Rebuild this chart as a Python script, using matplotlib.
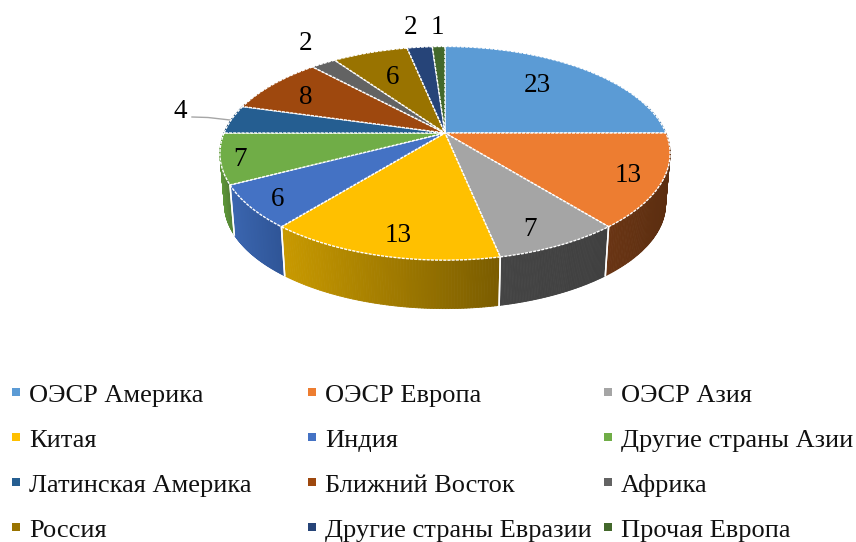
import numpy as np
import matplotlib
matplotlib.use("Agg")
import matplotlib.pyplot as plt
from matplotlib.collections import PolyCollection
from matplotlib.transforms import Transform
from matplotlib.colors import to_rgb

categories = ["ОЭСР Америка", "ОЭСР Европа", "ОЭСР Азия", "Китая", "Индия", "Другие страны Азии",
              "Латинская Америка", "Ближний Восток", "Африка", "Россия", "Другие страны Евразии", "Прочая Европа"]
values = [23, 13, 7, 13, 6, 7, 4, 8, 2, 6, 2, 1]
colors = ["#5b9bd5", "#ed7d31", "#a5a5a5", "#ffc000", "#4472c4", "#70ad47",
          "#255e91", "#9e480e", "#636363", "#997300", "#264478", "#43682b"]
wall_a = ["#3d6d99", "#6a3514", "#444444", "#c99a00", "#3b66b0", "#5f9a3a",
          "#1a4268", "#6f330a", "#444444", "#6b5100", "#1b3055", "#2f4a1e"]
wall_b = ["#3d6d99", "#5c2e10", "#404040", "#7a5c00", "#2f5597", "#548235",
          "#1a4268", "#6f330a", "#444444", "#6b5100", "#1b3055", "#2f4a1e"]
label_xy = [(537, 85), (628, 176), (530, 229), (398, 235), (278, 199), (240, 159),
            (180, 112), (306, 97), (306, 43), (393, 77), (411, 28), (437, 28)]

CX, CY, RX, RY, K = 445, 133, 221, 103, 0.19
DEPTH, SHRINK = 51, 0.98
SERIF = "Liberation Serif"


def project(x, y):
    w = 1 + K * y
    return CX + RX * x / w, CY - RY * y / w


class Persp(Transform):
    input_dims = output_dims = 2
    is_separable = False
    has_inverse = False

    def transform_non_affine(self, xy):
        xy = np.asarray(xy, float)
        px, py = project(xy[:, 0], xy[:, 1])
        return np.column_stack([px, py])


fig = plt.figure(figsize=(8.56, 5.42), dpi=100)
ax = fig.add_axes([0, 0, 1, 1])
wedges, _ = ax.pie(values, colors=colors, startangle=90, counterclock=False,
                   wedgeprops=dict(edgecolor="white", linewidth=1.0, linestyle=(0, (2.2, 0.8))))
persp = Persp()
for w in wedges:
    w.set_transform(persp + ax.transData)
    w.set_zorder(3)


def bottom(px, py):
    return CX + (px - CX) * SHRINK, CY + (py - CY) * SHRINK + DEPTH


for i, w in enumerate(wedges):
    th = np.radians(np.linspace(w.theta1, w.theta2, 80))
    keep = np.sin(th) < 0.3
    if keep.sum() < 2:
        continue
    th = th[keep]
    px, py = project(np.cos(th), np.sin(th))
    bx, by = bottom(px, py)
    quads, cols = [], []
    a, b = np.array(to_rgb(wall_a[i])), np.array(to_rgb(wall_b[i]))
    span = max(px.max() - px.min(), 1)
    for j in range(len(th) - 1):
        quads.append([(px[j], py[j]), (px[j + 1], py[j + 1]), (bx[j + 1], by[j + 1]), (bx[j], by[j])])
        t = ((px[j] + px[j + 1]) / 2 - px.min()) / span
        cols.append(a + (b - a) * t)
    ax.add_collection(PolyCollection(quads, facecolors=cols, edgecolors=cols, linewidths=0.6, zorder=1))
    for k in (0, -1):
        if np.sin(th[k]) < -0.3:
            ax.plot([px[k], bx[k]], [py[k], by[k]], color="white", lw=1.1, zorder=2)

for v, (x, y) in zip(values, label_xy):
    ax.text(x, y, str(v), family=SERIF, fontsize=19.5, ha="center", va="center", color="black", zorder=5)

ax.plot([192, 208, 230], [117, 117.5, 120], color="#a6a6a6", lw=1, zorder=2)

marker_x = [16, 312, 608]
text_x = [29, 325, 621]
row_base = [402, 447, 492, 537]
row_mark = [392, 437, 482, 527]
for i, (name, c) in enumerate(zip(categories, colors)):
    r, k = divmod(i, 3)
    ax.scatter([marker_x[k]], [row_mark[r]], marker="s", s=33, color=c, linewidths=0, zorder=4)
    ax.text(text_x[k], row_base[r], name, family=SERIF, fontsize=19, ha="left", va="baseline", color="#111111")

ax.set_aspect("auto")
ax.set_xlim(0, 856)
ax.set_ylim(542, 0)
ax.axis("off")
fig.savefig("out.png", dpi=100, facecolor="white")
